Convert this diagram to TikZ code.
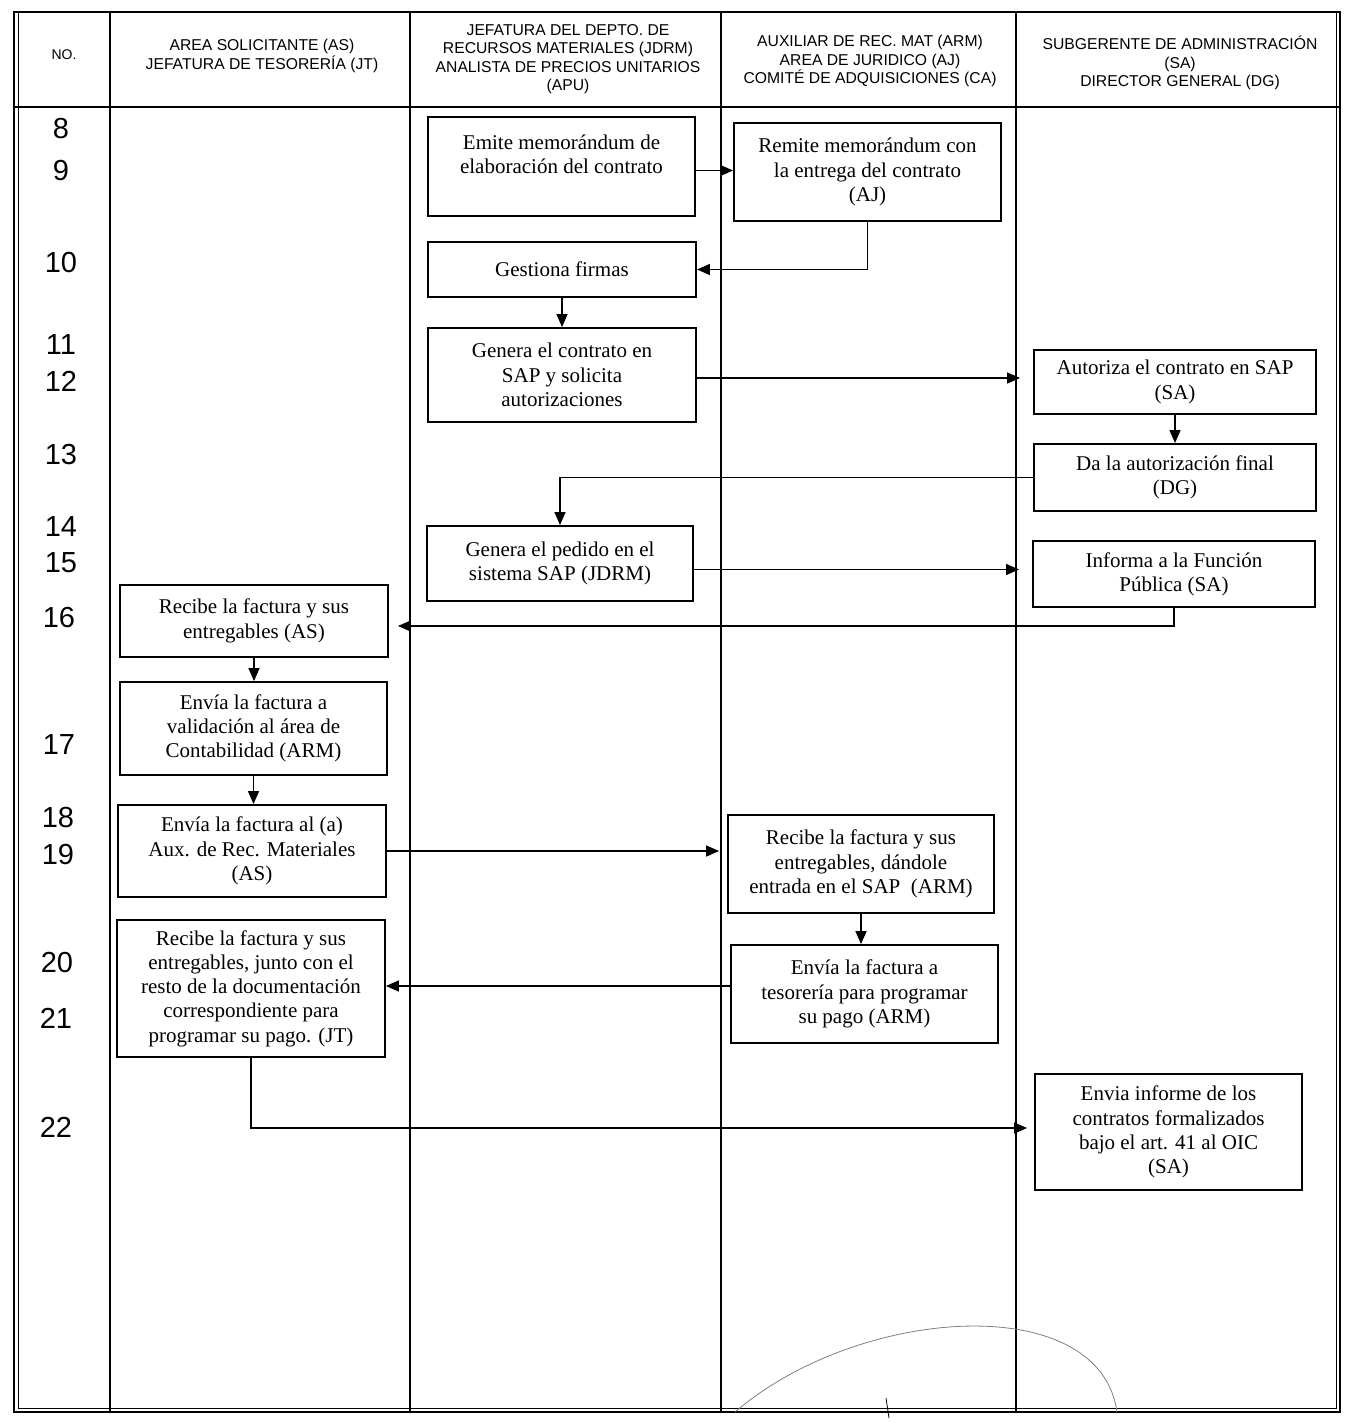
\documentclass[tikz,border=0pt]{standalone}
\usepackage{fontspec}
\setmainfont{Liberation Serif}
\newfontfamily\hdrfont{Liberation Sans}
\usetikzlibrary{arrows.meta}
\begin{document}
\begin{tikzpicture}[x=1pt,y=-1pt,
  box/.style={draw, line width=1.9pt, align=center, inner sep=0pt, font=\fontsize{21}{24.3}\selectfont},
  arr/.style={line width=1.5pt, -{Triangle[length=13pt,width=11pt]}},
  lane/.style={line width=1.3pt},
  hdr/.style={align=center, font=\hdrfont\fontsize{15.7}{18.3}\selectfont},
  num/.style={font=\hdrfont\fontsize{29}{31}\selectfont}]

\useasboundingbox[fill=white] (0,0) rectangle (1347,1423);

% frame
\draw[line width=1.6pt] (14,12) rectangle (1340,1412);
\draw[line width=0.8pt] (18,12) -- (18,1408) -- (1336,1408) -- (1336,12);
\draw[lane] (14,107) -- (1340,107);
\foreach \xx in {110,410,721,1016} \draw[lane] (\xx,12) -- (\xx,1412);

% headers
\node[hdr, font=\hdrfont\fontsize{14}{16}\selectfont] (hno) at (64,55) {NO.};
\node[hdr] (has) at (262,56) {AREA SOLICITANTE (AS)\\JEFATURA DE TESORERÍA (JT)};
\node[hdr] (hjd) at (568,59) {JEFATURA DEL DEPTO. DE\\RECURSOS MATERIALES (JDRM)\\ANALISTA DE PRECIOS UNITARIOS\\(APU)};
\node[hdr] (har) at (870,61) {AUXILIAR DE REC. MAT (ARM)\\AREA DE JURIDICO (AJ)\\COMITÉ DE ADQUISICIONES (CA)};
\node[hdr] (hsa) at (1180,63) {SUBGERENTE DE ADMINISTRACIÓN\\(SA)\\DIRECTOR GENERAL (DG)};

% row numbers
\node[num] (r8)  at (61,129)  {8};
\node[num] (r9)  at (61,171)  {9};
\node[num] (r10) at (61,263)  {10};
\node[num] (r11) at (61,345)  {11};
\node[num] (r12) at (61,381)  {12};
\node[num] (r13) at (61,455)  {13};
\node[num] (r14) at (61,527)  {14};
\node[num] (r15) at (61,563)  {15};
\node[num] (r16) at (59,618)  {16};
\node[num] (r17) at (59,745)  {17};
\node[num] (r18) at (58,818)  {18};
\node[num] (r19) at (58,855)  {19};
\node[num] (r20) at (57,963)  {20};
\node[num] (r21) at (56,1018) {21};
\node[num] (r22) at (56,1127) {22};

% boxes
\node[box, minimum width=267, minimum height=99] (n1) at (561.5,166.5) {Emite memorándum de\\elaboración del contrato\\\mbox{}};
\node[box, minimum width=267, minimum height=98] (n2) at (867.5,172) {Remite memorándum con\\la entrega del contrato\\(AJ)};
\node[box, minimum width=268, minimum height=55] (n3) at (562,269.5) {Gestiona firmas};
\node[box, minimum width=268, minimum height=94] (n4) at (562,375) {Genera el contrato en\\SAP y solicita\\autorizaciones};
\node[box, minimum width=282, minimum height=64] (n5) at (1175,382) {Autoriza el contrato en SAP\\(SA)};
\node[box, minimum width=282, minimum height=67] (n6) at (1175,477.5) {Da la autorización final\\(DG)};
\node[box, minimum width=266, minimum height=75] (n7) at (560,563.5) {Genera el pedido en el\\sistema SAP (JDRM)};
\node[box, minimum width=282, minimum height=66] (n8) at (1174,574) {Informa a la Función\\Pública (SA)};
\node[box, minimum width=268, minimum height=72] (n9) at (254,621) {Recibe la factura y sus\\entregables (AS)};
\node[box, minimum width=267, minimum height=93] (n10) at (253.5,728.5) {Envía la factura a\\validación al área de\\Contabilidad (ARM)};
\node[box, minimum width=268, minimum height=92] (n11) at (252,851) {Envía la factura al (a)\\Aux. de Rec. Materiales\\(AS)};
\node[box, minimum width=266, minimum height=98] (n12) at (861,864) {Recibe la factura y sus\\entregables, dándole\\entrada en el SAP\ \ (ARM)};
\node[box, minimum width=267, minimum height=98] (n13) at (864.5,994) {Envía la factura a\\tesorería para programar\\su pago (ARM)};
\node[box, minimum width=268, minimum height=137] (n14) at (251,988.5) {Recibe la factura y sus\\entregables, junto con el\\resto de la documentación\\correspondiente para\\programar su pago. (JT)};
\node[box, minimum width=267, minimum height=116] (n15) at (1168.5,1132) {Envia informe de los\\contratos formalizados\\bajo el art. 41 al OIC\\(SA)};

% connectors
\draw[arr] ([yshift=-4pt]n1.east) -- ([yshift=-4pt]n1.east -| n2.west);
\draw[arr] (n2.south) |- (n3.east);
\draw[arr] (n3.south) -- (n4.north);
\draw[arr, shorten >=13pt] ([yshift=-3pt]n4.east) -- ([yshift=-3pt]n4.east -| n5.west);
\draw[arr] (n5.south) -- (n6.north);
\draw[arr] (n6.west) -| (n7.north);
\draw[arr, shorten >=13pt] ([yshift=-6pt]n7.east) -- ([yshift=-6pt]n7.east -| n8.west);
\draw[arr, shorten >=9pt] (n8.south) |- ([yshift=-5pt]n9.east);
\draw[arr] (n9.south) -- (n9.south |- n10.north);
\draw[arr] (n10.south) -- (n10.south |- n11.north);
\draw[arr, shorten >=8pt] (n11.east) -- (n11.east -| n12.west);
\draw[arr] (n12.south) -- (n12.south |- n13.north);
\draw[arr] ([yshift=8pt]n13.west) -- ([yshift=8pt]n13.west -| n14.east);
\draw[arr, shorten >=7pt] (n14.south) |- ([yshift=4pt]n15.west);

% signature stroke
\draw[gray, line width=0.8pt] (735,1412) .. controls (860,1305) and (1100,1290) .. (1117,1412);
\draw[line width=0.8pt] (886,1398) -- (889,1418);
\end{tikzpicture}
\end{document}
